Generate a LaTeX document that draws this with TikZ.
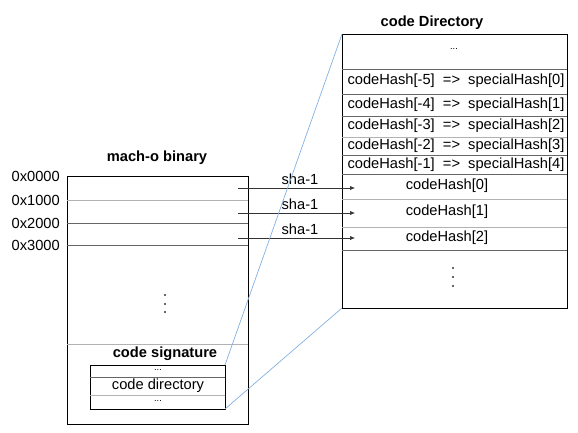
\documentclass[tikz,border=0pt]{standalone}
\usepackage{fontspec}
\setmainfont{Liberation Sans}
\usetikzlibrary{arrows.meta,positioning}
\definecolor{Link}{HTML}{7FAEE0}

\begin{document}
\begin{tikzpicture}[
    x=0.75pt,y=-0.75pt,
    >={Latex[length=1.3mm,width=1.1mm]},
    box/.style={draw=black,line width=0.7pt},
    sep/.style={draw=black!60,line width=0.5pt},
    sepL/.style={draw=black!30,line width=0.7pt},
    txt/.style={font=\fontsize{11}{13}\selectfont,inner sep=0pt},
    ttl/.style={font=\fontsize{11}{13}\selectfont\bfseries,inner sep=0pt},
    link/.style={draw=Link,line width=0.5pt},
    hash/.style={->,draw=black!80,line width=0.5pt},
    dot/.style={fill=black!80,draw=none},
  ]
  \useasboundingbox (0,0) rectangle (578,432);

  % ---------- mach-o binary (left) ----------
  \node[ttl] (binT) at (157,158) {mach-o binary};
  \draw[box] (67,176) rectangle (248,424);
  \draw[sepL] (67,200) -- (248,200);   % 0x1000
  \draw[sep]  (67,223) -- (248,223);   % 0x2000
  \draw[sep]  (67,245) -- (248,245);   % 0x3000
  \draw[sepL] (67,344) -- (248,344);   % code signature
  \foreach \i/\y in {0/176, 1/200, 2/223, 3/245}
    \node[txt,anchor=east] (addr\i) at (60,\y) {0x\i000};
  \foreach \y in {295, 304, 312}
    \fill[dot] (165,\y) circle (1.1);
  \node[ttl] (sigT) at (165,354) {code signature};

  % code signature, holding the code directory
  \draw[box] (90,365) rectangle (225,409);
  \draw[sep]  (90,377) -- (225,377);
  \draw[sepL] (90,395) -- (225,395);
  \node[txt] (sigA) at (158,370) {\scriptsize ...};
  \node[txt] (sigB) at (158,386) {code directory};
  \node[txt] (sigC) at (158,401) {\scriptsize ...};
  \coordinate (sigNE) at (225,365);
  \coordinate (sigSE) at (225,409);

  % ---------- code Directory (right) ----------
  \node[ttl] (dirT) at (432,23) {code Directory};
  \draw[box] (342,34) rectangle (567,308);
  \coordinate (dirNW) at (342,34);
  \coordinate (dirSW) at (342,308);
  \foreach \y/\s in {69/sep, 94/sep, 116/sep, 137/sepL, 155/sep,
                     174/sep, 199/sepL, 227/sepL, 250/sep}
    \draw[\s] (342,\y) -- (567,\y);
  \node[txt] (dirA) at (454,49) {\scriptsize ...};
  \foreach \i/\y in {5/81, 4/105, 3/126, 2/146, 1/165}
    {\pgfmathtruncatemacro\k{5-\i}
     \node[txt] (spec\i) at (456,\y) {codeHash[-\i]\ \ =>\ \ specialHash[\k]};}
  \foreach \i/\y in {0/186, 1/212, 2/238}
    \node[txt] (code\i) at (447,\y) {codeHash[\i]};
  \foreach \y in {268, 277, 286}
    \fill[dot] (453,\y) circle (1.1);

  % ---------- pages hashed into the slots ----------
  \foreach \i/\y in {0/188, 1/213, 2/238}
    {\coordinate (pg\i) at (238,\y);
     \coordinate (slot\i) at (355,\y);
     \draw[hash] (pg\i) -- (slot\i);
     \node[txt,anchor=south] (sha\i) at (300,\y-3) {sha-1};}

  % zoom lines
  \draw[link] (sigNE) -- (dirNW);
  \draw[link] (sigSE) -- (dirSW);
\end{tikzpicture}
\end{document}
